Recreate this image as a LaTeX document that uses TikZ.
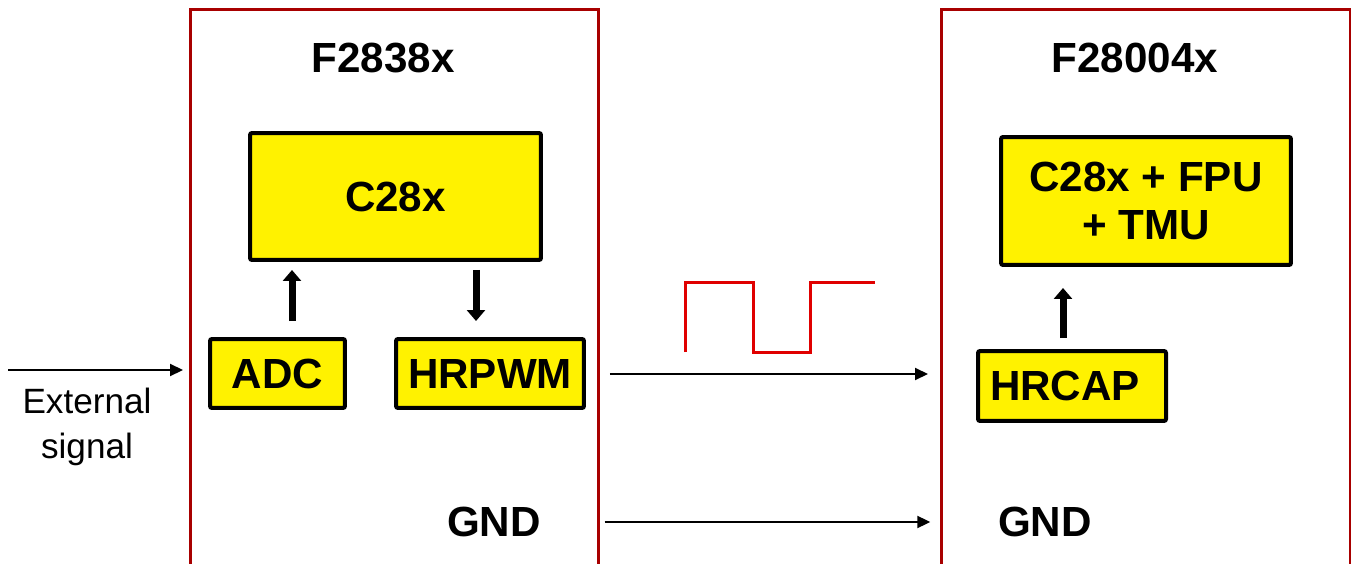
\documentclass[tikz,border=0pt]{standalone}
\usepackage{fontspec}
\setmainfont{Liberation Sans}
\usetikzlibrary{arrows.meta,positioning,calc}
\definecolor{chipred}{HTML}{A80000}
\definecolor{wavered}{HTML}{E00000}
\begin{document}
\begin{tikzpicture}[x=0.02cm, y=-0.02cm,
    blockbox/.style={draw=black, fill=yellow, line width=0.08cm,
      rounded corners=0.04cm, font=\bfseries\fontsize{24}{29}\selectfont,
      align=center, inner sep=0pt},
    chiplabel/.style={font=\bfseries\fontsize{24}{29}\selectfont, inner sep=2pt},
    bigarrow/.style={line width=0.14cm, -{Triangle[width=0.36cm,length=0.22cm]}},
    thinarrow/.style={line width=0.04cm, -{Triangle[width=0.24cm,length=0.26cm]}},
  line join=miter]

  \useasboundingbox (0,0) rectangle (1351,564);

  % Chips
  \draw [chipred, line width=0.06cm] (190,564) -- (190,10) -- (598,10) -- (598,564);
  \draw [chipred, line width=0.06cm] (941,564) -- (941,10) -- (1350,10) -- (1350,564);
  \node [chiplabel] (namea) at (383,58) {F2838x};
  \node [chiplabel] (nameb) at (1135,58) {F28004x};

  % Blocks in F2838x
  \node [blockbox, minimum width=5.82cm, minimum height=2.54cm] (cpua) at (395.5,196.5) {C28x};
  \node [blockbox, minimum width=2.7cm, minimum height=1.38cm] (adc) at (277.5,373.5) {ADC};
  \node [blockbox, minimum width=3.76cm, minimum height=1.38cm] (pwm) at (490,373.5) {HRPWM};

  % Blocks in F28004x
  \node [blockbox, minimum width=5.8cm, minimum height=2.56cm,
    font=\bfseries\fontsize{24}{27.5}\selectfont] (cpub) at (1146,201) {C28x + FPU\\+ TMU};
  \node [blockbox, minimum width=3.76cm, minimum height=1.4cm, text width=3.28cm,
    align=left, inner xsep=0.24cm] (cap) at (1072,386) {HRCAP};

  % Inner arrows
  \draw [bigarrow, shorten <=0.32cm, shorten >=0.16cm]
    ([xshift=0.29cm]adc.north) -- ([xshift=0.29cm]adc.north |- cpua.south);
  \draw [bigarrow, shorten <=0.16cm, shorten >=0.32cm]
    ([xshift=-0.28cm]pwm.north |- cpua.south) -- ([xshift=-0.28cm]pwm.north);
  \draw [bigarrow, shorten <=0.22cm, shorten >=0.42cm]
    ([xshift=-0.18cm]cap.north) -- ([xshift=-0.18cm]cap.north |- cpub.south);

  % External signal
  \coordinate (ext) at (8,370);
  \draw [thinarrow, shorten >=0.5cm] (ext) -- (ext -| adc.west);
  \node [align=center, font=\fontsize{20}{26}\selectfont, inner sep=0pt] (extlabel)
    at (87,427) {External\\signal};

  % Square wave
  \draw [wavered, line width=0.06cm]
    (685,352) -- (685,282) -- (753,282) -- (753,352) -- (810,352) -- (810,282) -- (875,282);

  % PWM link
  \coordinate (pwmin) at (928,374);
  \draw [thinarrow, shorten <=0.48cm] (pwm.east |- pwmin) -- (pwmin);

  % Ground
  \node [chiplabel] (gnda) at (494,522) {GND};
  \node [chiplabel] (gndb) at (1045,522) {GND};
  \draw [thinarrow, shorten <=1.2cm, shorten >=1.28cm] (gnda.east) -- (gndb.west);

\end{tikzpicture}
\end{document}
